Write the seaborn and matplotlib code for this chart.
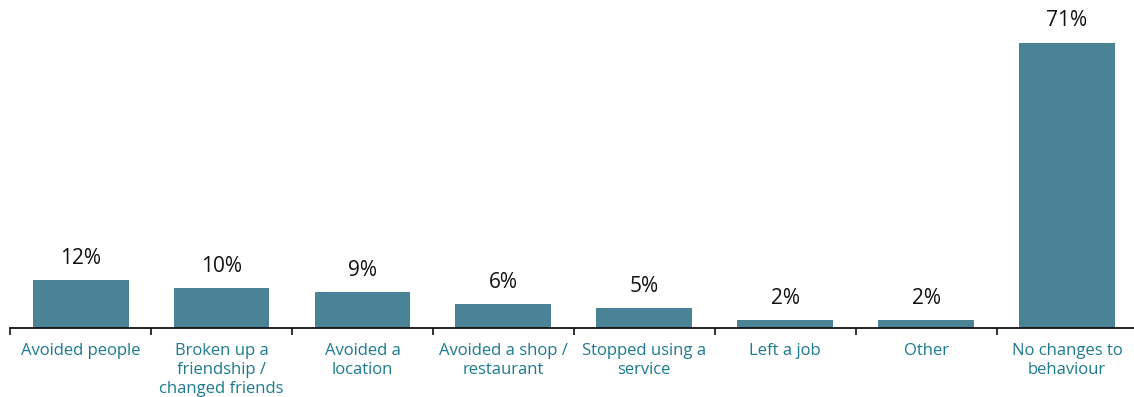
import matplotlib
matplotlib.use("Agg")
import matplotlib.pyplot as plt
import seaborn as sns
import numpy as np
import pandas as pd

categories = [
    "Avoided people",
    "Broken up a\nfriendship /\nchanged friends",
    "Avoided a\nlocation",
    "Avoided a shop /\nrestaurant",
    "Stopped using a\nservice",
    "Left a job",
    "Other",
    "No changes to\nbehaviour",
]
values = [12, 10, 9, 6, 5, 2, 2, 71]

bar_color = "#4a8296"
label_color = "#1c7a8e"

sns.set_theme(style="white")
plt.rcParams["font.family"] = ["Open Sans", "DejaVu Sans"]

df = pd.DataFrame({"category": categories, "value": values})

fig = plt.figure(figsize=(11.34, 3.97), dpi=100)
ax = fig.add_axes([0.009, 0.174, 0.994, 0.81])

sns.barplot(data=df, x="category", y="value", color=bar_color,
            saturation=1, width=0.68, ax=ax)

for p in ax.patches:
    p.set_edgecolor("none")

ax.bar_label(ax.containers[0], labels=[f"{v}%" for v in values],
             padding=8, fontsize=15, color="#111111")

ax.set_xlim(-0.5, len(categories) - 0.5)
ax.set_ylim(0, 80)
ax.set_xlabel("")
ax.set_ylabel("")
ax.set_yticks([])

ax.set_xticks(range(len(categories)))
ax.set_xticklabels(categories, color=label_color, fontsize=12, linespacing=1.25)
ax.tick_params(axis="x", which="major", length=0, pad=11)
ax.set_xticks(np.arange(len(categories) + 1) - 0.5, minor=True)
ax.tick_params(axis="x", which="minor", length=5, width=1.2, color="#111111",
               direction="out", bottom=True)

for side in ["top", "right", "left"]:
    ax.spines[side].set_visible(False)
ax.spines["bottom"].set_color("#111111")
ax.spines["bottom"].set_linewidth(1.3)

fig.savefig("out.png", dpi=100)
